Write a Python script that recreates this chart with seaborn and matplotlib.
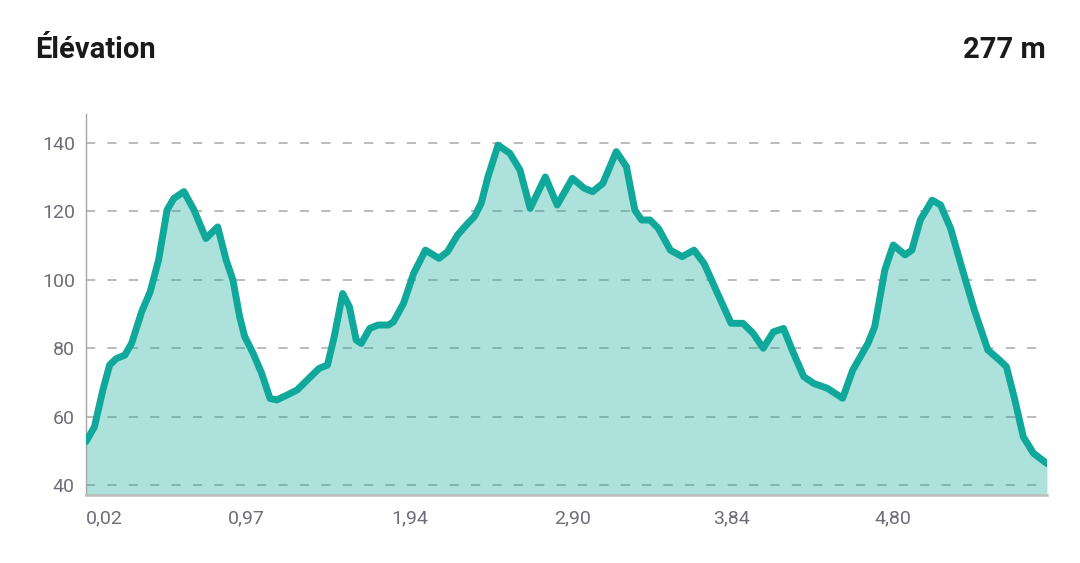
import numpy as np
import pandas as pd
import matplotlib
matplotlib.use("Agg")
import matplotlib.pyplot as plt
import seaborn as sns

# Elevation profile (distance in km, elevation in m)
distance_km = [0.02, 0.07, 0.12, 0.16, 0.20, 0.25, 0.29, 0.35, 0.40, 0.45,
               0.50, 0.54, 0.60, 0.66, 0.73, 0.80, 0.85, 0.89, 0.93, 0.96,
               1.01, 1.06, 1.11, 1.15, 1.21, 1.27, 1.34, 1.40, 1.45, 1.49,
               1.54, 1.58, 1.62, 1.65, 1.70, 1.75, 1.81, 1.84, 1.90, 1.96,
               2.03, 2.11, 2.16, 2.22, 2.28, 2.32, 2.36, 2.40, 2.46, 2.53,
               2.59, 2.65, 2.74, 2.81, 2.90, 2.97, 3.02, 3.08, 3.16, 3.22,
               3.27, 3.31, 3.36, 3.41, 3.48, 3.55, 3.62, 3.68, 3.76, 3.84,
               3.91, 3.97, 4.03, 4.09, 4.15, 4.21, 4.27, 4.33, 4.41, 4.50,
               4.56, 4.65, 4.69, 4.75, 4.80, 4.87, 4.91, 4.96, 5.03, 5.08,
               5.14, 5.21, 5.28, 5.36, 5.43, 5.47, 5.52, 5.57, 5.63, 5.71]
elevation_m = [52.7, 57.0, 67.8, 75.1, 77.0, 78.0, 81.4, 90.7, 96.5, 105.8,
               120.4, 123.8, 125.8, 120.4, 112.1, 115.5, 105.8, 100.0, 89.2, 83.4,
               78.5, 72.7, 65.3, 64.9, 66.3, 67.8, 71.2, 74.1, 75.1, 83.4,
               96.0, 92.1, 82.4, 81.4, 85.8, 86.8, 86.8, 87.7, 93.1, 101.9,
               108.7, 106.3, 108.2, 113.1, 116.5, 118.5, 122.4, 130.1, 139.4, 137.0,
               132.1, 120.9, 130.1, 121.9, 129.7, 126.8, 125.8, 128.2, 137.5, 133.1,
               120.4, 117.5, 117.5, 115.0, 108.7, 106.8, 108.7, 104.8, 96.0, 87.3,
               87.3, 84.4, 80.0, 84.8, 85.8, 78.5, 71.7, 69.7, 68.3, 65.4,
               73.6, 81.4, 86.3, 102.9, 110.2, 107.3, 108.7, 117.5, 123.3, 121.9,
               115.0, 102.9, 91.2, 79.5, 76.5, 74.6, 64.9, 54.1, 49.3, 46.3]

x_ticks = [0.02, 0.97, 1.94, 2.90, 3.84, 4.80]
x_tick_labels = ["0,02", "0,97", "1,94", "2,90", "3,84", "4,80"]
y_ticks = [40, 60, 80, 100, 120, 140]

title = "Élévation"
total_label = "277 m"

df = pd.DataFrame({"distance": distance_km, "elevation": elevation_m})

sns.set_style("white")
plt.rcParams["font.family"] = ["Roboto", "DejaVu Sans"]

teal = "#0fa89a"
tick_color = "#6e6e78"
ymin, ymax = 37.1, 148.5

fig = plt.figure(figsize=(10.8, 5.63), dpi=100)
ax = fig.add_axes([0.0796, 0.1208, 0.8898, 0.6767])

ax.fill_between(df["distance"], df["elevation"], ymin, color=teal, alpha=0.34,
                linewidth=0, zorder=2)
sns.lineplot(data=df, x="distance", y="elevation", ax=ax, color=teal,
             linewidth=5, zorder=3)
ax.lines[-1].set_solid_joinstyle("round")
ax.lines[-1].set_solid_capstyle("round")

ax.set_xlim(0.02, 5.71)
ax.set_ylim(ymin, ymax)
ax.set_xlabel("")
ax.set_ylabel("")

ax.set_yticks(y_ticks)
ax.set_xticks(x_ticks)
ax.set_xticklabels(x_tick_labels)
ax.xaxis.get_majorticklabels()[0].set_horizontalalignment("left")
ax.tick_params(axis="both", length=0, labelsize=14, labelcolor=tick_color)
ax.tick_params(axis="x", pad=10)
ax.tick_params(axis="y", pad=8)

ax.yaxis.grid(True, color="#a8a8a8", linewidth=1.1, linestyle=(0, (6, 8)), zorder=4)
ax.xaxis.grid(False)

for side in ["top", "right"]:
    ax.spines[side].set_visible(False)
ax.spines["left"].set_color("#a6a6a6")
ax.spines["left"].set_linewidth(1.0)
ax.spines["bottom"].set_color("#bdbdbd")
ax.spines["bottom"].set_linewidth(1.8)

fig.text(35 / 1080, 1 - 58 / 563, title, fontsize=21, fontweight="bold",
         color="#1a1a1a", ha="left", va="baseline")
fig.text(1046 / 1080, 1 - 58 / 563, total_label, fontsize=21, fontweight="bold",
         color="#1a1a1a", ha="right", va="baseline")

plt.savefig("out.png", dpi=100)
